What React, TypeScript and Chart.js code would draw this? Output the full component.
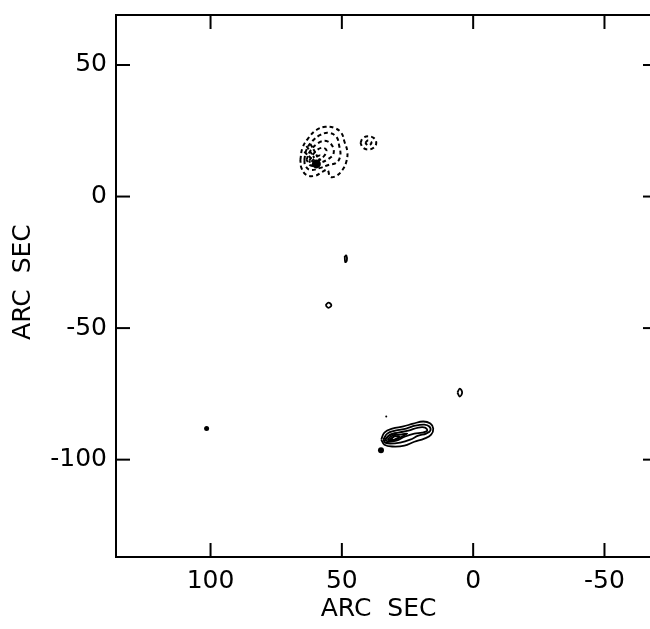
import React, { useEffect, useRef } from "react";
import { Chart, registerables } from "chart.js";
Chart.register(...registerables);

// Axis ranges and tick labels (arc sec)
const xTicks = [100, 50, 0, -50];
const yTicks = [50, 0, -50, -100];
const xMin = -70;
const xMax = 136;
const yMin = -137;
const yMax = 69;
const xTitle = "ARC  SEC  ";
const yTitle = " ARC  SEC";

// Negative (dashed) contours of the northern source: [x, y] in arc sec
const neg1: number[][] = [
  [65.8, 13.9], [65.0, 18.5], [62.7, 22.3], [59.7, 25.3], [56.3, 26.5], [52.9, 26.1],
  [50.2, 24.2], [49.0, 20.8], [47.9, 17.0], [48.3, 13.2], [49.8, 10.1], [52.1, 7.9],
  [54.4, 7.5], [55.5, 10.1], [57.4, 9.4], [60.1, 7.9], [63.5, 8.2], [65.4, 10.9],
];
const neg2: number[][] = [
  [64.3, 13.9], [63.5, 17.7], [61.2, 21.1], [58.2, 23.4], [55.1, 24.2], [52.1, 22.7],
  [51.0, 19.2], [50.6, 15.5], [52.1, 12.8], [55.1, 12.0], [58.2, 10.9], [62.0, 10.1],
  [63.9, 11.7],
];
const neg3: number[][] = [
  [63.5, 13.9], [62.0, 17.4], [58.9, 20.4], [55.9, 21.1], [53.6, 19.2], [53.2, 16.2],
  [55.1, 14.3], [58.2, 12.8], [61.6, 11.7],
];
const neg4: number[][] = [
  [62.4, 13.6], [60.5, 16.6], [57.8, 18.5], [55.9, 17.7], [56.7, 15.5], [59.3, 13.2],
  [61.6, 12.0],
];
const neg5: number[][] = [
  [61.6, 13.2], [59.7, 15.1], [58.2, 15.5], [58.9, 13.6], [60.8, 12.0],
];
// open contour fragments packed against the core
const negStreak1: number[][] = [[64.3, 17.0], [62.6, 15.4], [61.2, 13.9]];
const negStreak2: number[][] = [[63.5, 19.2], [62.0, 17.0], [60.5, 14.7]];
const negStreak3: number[][] = [[62.0, 20.0], [60.6, 17.6], [59.3, 15.1]];
const negSmallOuter: number[][] = [
  [42.9, 20.4], [42.0, 22.2], [39.9, 22.9], [37.8, 22.2], [36.9, 20.4], [37.8, 18.6],
  [39.9, 17.9], [42.0, 18.6],
];
const negSmallInner: number[][] = [
  [41.1, 20.4], [39.9, 21.4], [38.7, 20.4], [39.9, 19.4],
];

// Positive (solid) contours of the southern source
const pos1: number[][] = [
  [35.0, -92.4], [33.8, -89.7], [30.8, -88.2], [26.6, -87.4], [22.8, -86.3], [19.0, -85.5],
  [16.3, -86.3], [15.2, -88.2], [16.0, -90.5], [18.6, -92.0], [22.4, -93.2], [26.2, -94.7],
  [30.8, -95.0], [33.8, -94.3],
];
const pos2: number[][] = [
  [34.2, -92.4], [32.7, -90.1], [29.7, -89.0], [25.5, -88.2], [22.1, -87.1], [18.6, -86.7],
  [16.7, -87.4], [16.3, -89.0], [17.9, -90.1], [20.9, -90.9], [24.0, -92.4], [27.8, -93.5],
  [31.6, -93.9], [33.5, -93.5],
];
const pos3: number[][] = [
  [33.5, -92.4], [31.6, -90.5], [28.5, -89.7], [24.7, -89.0], [20.9, -87.8], [18.3, -87.8],
  [17.5, -89.0], [19.4, -89.7], [22.4, -90.1], [25.9, -91.2], [29.3, -92.8], [32.3, -93.2],
];
const pos4: number[][] = [
  [32.7, -92.4], [30.8, -90.9], [28.1, -90.5], [25.1, -90.1], [27.8, -91.6], [30.8, -92.8],
];
const pos5: number[][] = [
  [31.9, -92.4], [30.0, -91.2], [28.1, -91.2], [30.0, -92.4],
];
const pos6: number[][] = [
  [34.0, -93.0], [32.2, -91.0], [29.5, -90.0], [31.0, -92.0], [33.0, -93.6],
];
// Small isolated solid features
const ringA: number[][] = [
  [56.2, -41.3], [55.1, -40.3], [54.0, -41.3], [55.1, -42.3],
];
const ringB: number[][] = [
  [6.0, -74.5], [5.1, -73.0], [4.2, -74.5], [5.1, -76.0],
];
const blobC: number[][] = [
  [48.9, -22.6], [48.3, -22.4], [48.1, -24.3], [48.7, -24.9],
];

// Isolated dots [x, y]
const dotX = [101.5, 35.1, 33.1, 59.7];
const dotY = [-88.2, -96.4, -83.6, 12.4];
const dotSize = [2.5, 3, 1, 4.5];

const solidContours = [pos1, pos2, pos3, pos4, pos5, pos6, ringA, ringB, blobC];
const dashedContours = [neg1, neg2, neg3, neg4, neg5, negSmallOuter, negSmallInner];
const dashedFragments = [negStreak1, negStreak2, negStreak3];

function toPts(c: number[][], close: boolean) {
  const pts = c.map(([x, y]) => ({ x, y }));
  if (close) pts.push({ x: c[0][0], y: c[0][1] });
  return pts;
}

const framePlugin = {
  id: "frameTicks",
  afterDraw(chart: any) {
    const { ctx, chartArea: a, scales } = chart;
    const L = 14;
    ctx.save();
    ctx.strokeStyle = "#000";
    ctx.lineWidth = 2;
    ctx.strokeRect(a.left, a.top, a.right - a.left, a.bottom - a.top);
    const seg = (x1: number, y1: number, x2: number, y2: number) => {
      ctx.beginPath();
      ctx.moveTo(x1, y1);
      ctx.lineTo(x2, y2);
      ctx.stroke();
    };
    scales.x.ticks.forEach((t: any) => {
      const p = scales.x.getPixelForValue(t.value);
      seg(p, a.bottom, p, a.bottom - L);
      seg(p, a.top, p, a.top + L);
    });
    scales.y.ticks.forEach((t: any) => {
      const p = scales.y.getPixelForValue(t.value);
      seg(a.left, p, a.left + L, p);
      seg(a.right, p, a.right - L, p);
    });
    ctx.restore();
  },
};

export default function App() {
  const ref = useRef<HTMLCanvasElement | null>(null);
  useEffect(() => {
    if (!ref.current) return;
    const datasets: any[] = [];
    solidContours.forEach((c) =>
      datasets.push({
        data: toPts(c, true),
        showLine: true,
        borderColor: "#000",
        borderWidth: 1.8,
        pointRadius: 0,
        tension: 0.4,
        fill: false,
      })
    );
    dashedContours.forEach((c) =>
      datasets.push({
        data: toPts(c, true),
        showLine: true,
        borderColor: "#000",
        borderWidth: 2,
        borderDash: [4, 3],
        pointRadius: 0,
        tension: 0.4,
        fill: false,
      })
    );
    dashedFragments.forEach((c) =>
      datasets.push({
        data: toPts(c, false),
        showLine: true,
        borderColor: "#000",
        borderWidth: 2,
        borderDash: [4, 2],
        pointRadius: 0,
        tension: 0.3,
        fill: false,
      })
    );
    datasets.push({
      data: dotX.map((x, i) => ({ x, y: dotY[i] })),
      showLine: false,
      pointRadius: dotSize,
      pointBackgroundColor: "#000",
      pointBorderWidth: 0,
      borderColor: "#000",
    });
    const font = { family: "'DejaVu Sans', sans-serif", size: 25 };
    const chart = new Chart(ref.current, {
      type: "scatter",
      data: { datasets },
      options: {
        animation: false,
        responsive: false,
        devicePixelRatio: 1,
        layout: { padding: { top: 15, right: 15, left: 0, bottom: 0 } },
        plugins: { legend: { display: false }, tooltip: { enabled: false } },
        scales: {
          x: {
            type: "linear",
            reverse: true,
            min: xMin,
            max: xMax,
            grid: { display: false },
            border: { display: false },
            afterBuildTicks: (s: any) => {
              s.ticks = xTicks.map((v) => ({ value: v }));
            },
            afterFit: (s: any) => {
              s.height = 72;
              s.paddingLeft = 0;
              s.paddingRight = 0;
            },
            ticks: {
              color: "#000",
              font,
              padding: 1,
              maxRotation: 0,
              autoSkip: false,
              callback: (v: any) => String(v),
            },
            title: {
              display: true,
              text: xTitle,
              color: "#000",
              font,
              padding: { top: 0, bottom: 5 },
            },
          },
          y: {
            type: "linear",
            min: yMin,
            max: yMax,
            grid: { display: false },
            border: { display: false },
            afterBuildTicks: (s: any) => {
              s.ticks = yTicks.map((v) => ({ value: v }));
            },
            afterFit: (s: any) => {
              s.width = 116;
              s.paddingTop = 0;
              s.paddingBottom = 0;
            },
            ticks: {
              color: "#000",
              font,
              padding: 1,
              autoSkip: false,
              callback: (v: any) => String(v),
            },
            title: {
              display: true,
              text: yTitle,
              color: "#000",
              font,
              padding: { top: 8, bottom: 0 },
            },
          },
        },
      },
      plugins: [framePlugin],
    });
    return () => chart.destroy();
  }, []);
  return (
    <div
      style={{
        position: "absolute",
        left: 0,
        top: 0,
        width: 650,
        height: 629,
        overflow: "hidden",
        background: "#fff",
      }}
    >
      <canvas ref={ref} width={672} height={629} style={{ display: "block" }} />
    </div>
  );
}
